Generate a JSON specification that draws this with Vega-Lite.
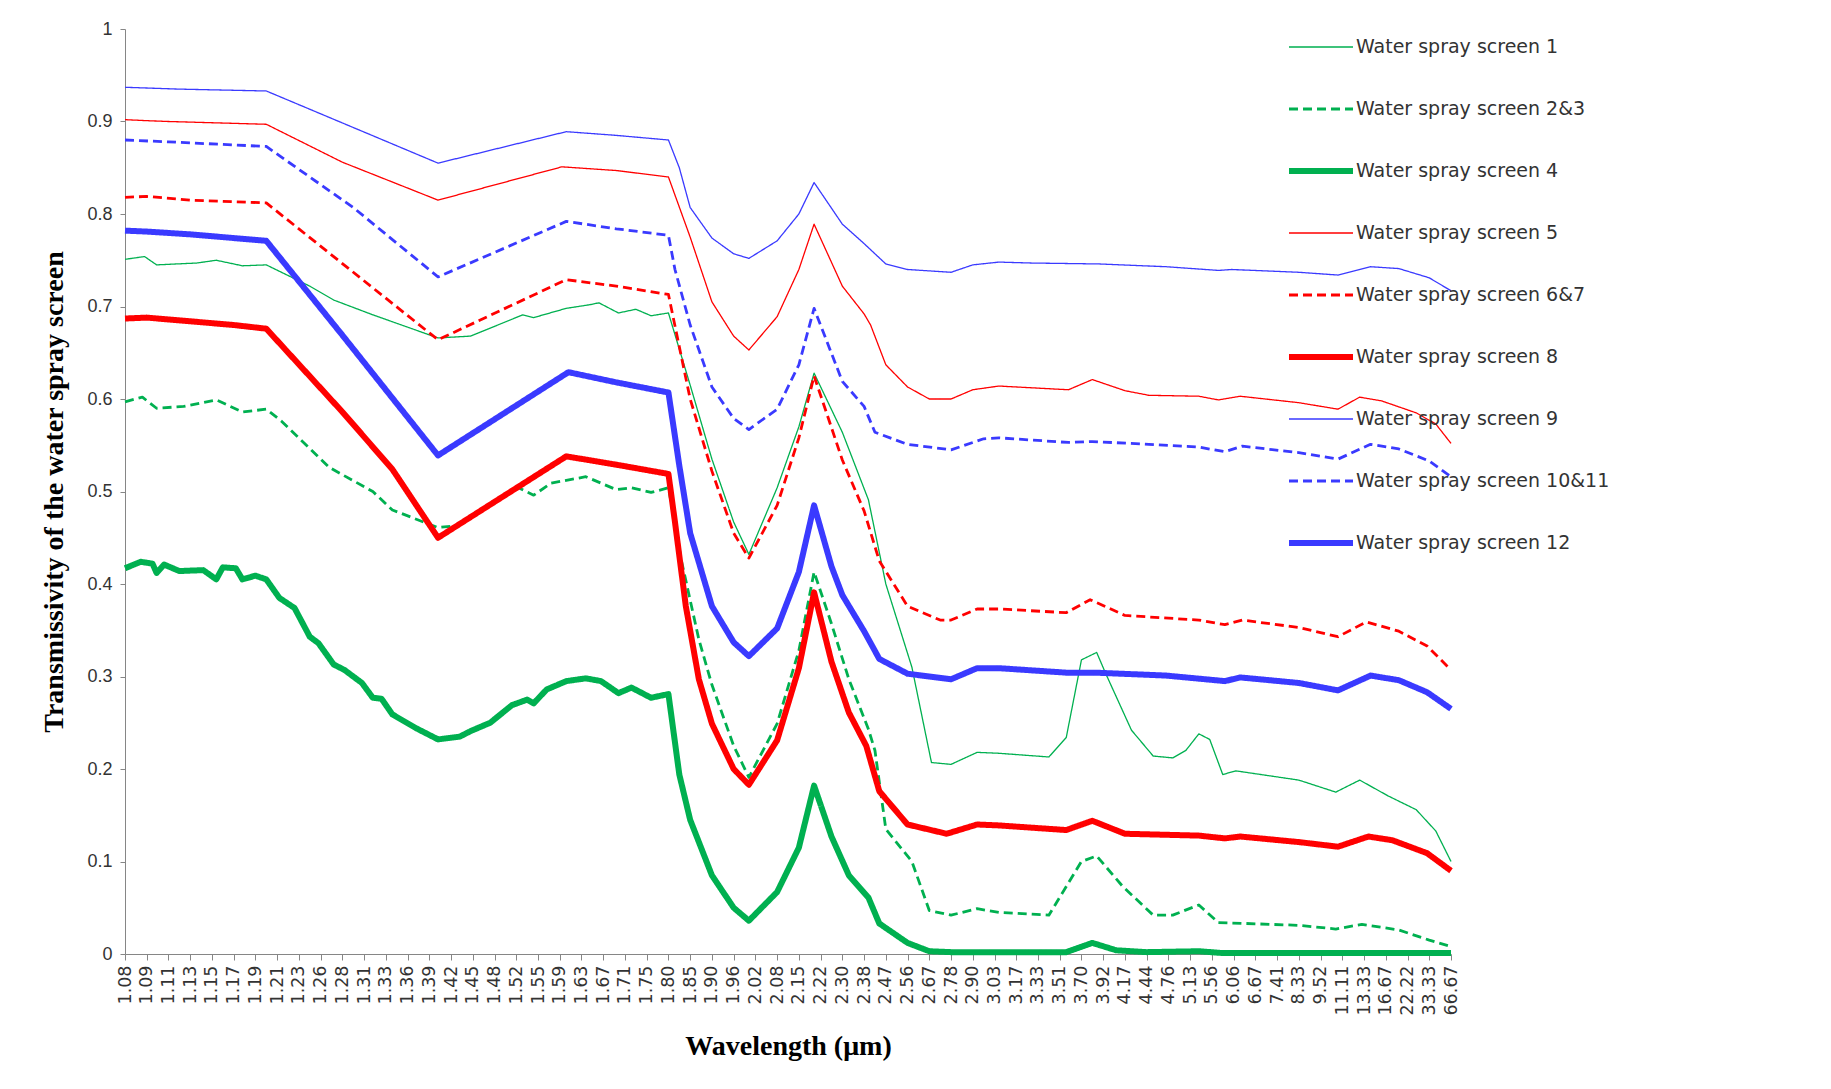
{
  "$schema": "https://vega.github.io/schema/vega-lite/v6.json",
  "width": 1326,
  "height": 925,
  "autosize": {"type": "none"},
  "padding": {"left": 125, "top": 29, "right": 380, "bottom": 135},
  "background": "white",
  "config": {
    "view": {"stroke": null},
    "legend": {
      "orient": "none", "legendX": 1161, "legendY": -12, "padding": 0,
      "symbolType": "stroke", "symbolSize": 4096, "labelFont": "DejaVu Sans",
      "labelFontSize": 19, "labelColor": "#333333", "rowPadding": 2, "clipHeight": 60, "labelOffset": 0,
      "labelLimit": 400
    }
  },
  "data": {"values": [
    {"screen":"Water spray screen 1","wn":9300,"t":0.751},{"screen":"Water spray screen 1","wn":9165,"t":0.754},{"screen":"Water spray screen 1","wn":9082,"t":0.745},{"screen":"Water spray screen 1","wn":8805,"t":0.747},{"screen":"Water spray screen 1","wn":8670,"t":0.750},{"screen":"Water spray screen 1","wn":8490,"t":0.744},{"screen":"Water spray screen 1","wn":8325,"t":0.745},{"screen":"Water spray screen 1","wn":8025,"t":0.722},{"screen":"Water spray screen 1","wn":7860,"t":0.707},{"screen":"Water spray screen 1","wn":7590,"t":0.691},{"screen":"Water spray screen 1","wn":7140,"t":0.666},{"screen":"Water spray screen 1","wn":6915,"t":0.668},{"screen":"Water spray screen 1","wn":6555,"t":0.691},{"screen":"Water spray screen 1","wn":6480,"t":0.688},{"screen":"Water spray screen 1","wn":6255,"t":0.698},{"screen":"Water spray screen 1","wn":6090,"t":0.702},{"screen":"Water spray screen 1","wn":6030,"t":0.704},{"screen":"Water spray screen 1","wn":5895,"t":0.693},{"screen":"Water spray screen 1","wn":5775,"t":0.697},{"screen":"Water spray screen 1","wn":5670,"t":0.690},{"screen":"Water spray screen 1","wn":5550,"t":0.693},{"screen":"Water spray screen 1","wn":5400,"t":0.615},{"screen":"Water spray screen 1","wn":5250,"t":0.535},{"screen":"Water spray screen 1","wn":5100,"t":0.467},{"screen":"Water spray screen 1","wn":4995,"t":0.432},{"screen":"Water spray screen 1","wn":4800,"t":0.504},{"screen":"Water spray screen 1","wn":4650,"t":0.570},{"screen":"Water spray screen 1","wn":4545,"t":0.628},{"screen":"Water spray screen 1","wn":4350,"t":0.564},{"screen":"Water spray screen 1","wn":4170,"t":0.491},{"screen":"Water spray screen 1","wn":4050,"t":0.400},{"screen":"Water spray screen 1","wn":3870,"t":0.310},{"screen":"Water spray screen 1","wn":3735,"t":0.207},{"screen":"Water spray screen 1","wn":3600,"t":0.205},{"screen":"Water spray screen 1","wn":3420,"t":0.218},{"screen":"Water spray screen 1","wn":3270,"t":0.217},{"screen":"Water spray screen 1","wn":2925,"t":0.213},{"screen":"Water spray screen 1","wn":2805,"t":0.234},{"screen":"Water spray screen 1","wn":2700,"t":0.318},{"screen":"Water spray screen 1","wn":2595,"t":0.326},{"screen":"Water spray screen 1","wn":2535,"t":0.304},{"screen":"Water spray screen 1","wn":2355,"t":0.242},{"screen":"Water spray screen 1","wn":2205,"t":0.214},{"screen":"Water spray screen 1","wn":2070,"t":0.212},{"screen":"Water spray screen 1","wn":1980,"t":0.220},{"screen":"Water spray screen 1","wn":1890,"t":0.238},{"screen":"Water spray screen 1","wn":1815,"t":0.232},{"screen":"Water spray screen 1","wn":1725,"t":0.194},{"screen":"Water spray screen 1","wn":1635,"t":0.198},{"screen":"Water spray screen 1","wn":1200,"t":0.188},{"screen":"Water spray screen 1","wn":945,"t":0.175},{"screen":"Water spray screen 1","wn":780,"t":0.188},{"screen":"Water spray screen 1","wn":585,"t":0.171},{"screen":"Water spray screen 1","wn":390,"t":0.156},{"screen":"Water spray screen 1","wn":255,"t":0.133},{"screen":"Water spray screen 1","wn":150,"t":0.100},

    {"screen":"Water spray screen 2&3","wn":9300,"t":0.597},{"screen":"Water spray screen 2&3","wn":9180,"t":0.602},{"screen":"Water spray screen 2&3","wn":9082,"t":0.590},{"screen":"Water spray screen 2&3","wn":8895,"t":0.592},{"screen":"Water spray screen 2&3","wn":8670,"t":0.599},{"screen":"Water spray screen 2&3","wn":8490,"t":0.586},{"screen":"Water spray screen 2&3","wn":8325,"t":0.589},{"screen":"Water spray screen 2&3","wn":8220,"t":0.576},{"screen":"Water spray screen 2&3","wn":7890,"t":0.526},{"screen":"Water spray screen 2&3","wn":7590,"t":0.500},{"screen":"Water spray screen 2&3","wn":7455,"t":0.480},{"screen":"Water spray screen 2&3","wn":7140,"t":0.461},{"screen":"Water spray screen 2&3","wn":7020,"t":0.463},{"screen":"Water spray screen 2&3","wn":6750,"t":0.489},{"screen":"Water spray screen 2&3","wn":6585,"t":0.504},{"screen":"Water spray screen 2&3","wn":6480,"t":0.496},{"screen":"Water spray screen 2&3","wn":6360,"t":0.509},{"screen":"Water spray screen 2&3","wn":6120,"t":0.516},{"screen":"Water spray screen 2&3","wn":5910,"t":0.502},{"screen":"Water spray screen 2&3","wn":5805,"t":0.504},{"screen":"Water spray screen 2&3","wn":5670,"t":0.499},{"screen":"Water spray screen 2&3","wn":5550,"t":0.504},{"screen":"Water spray screen 2&3","wn":5460,"t":0.425},{"screen":"Water spray screen 2&3","wn":5340,"t":0.340},{"screen":"Water spray screen 2&3","wn":5250,"t":0.291},{"screen":"Water spray screen 2&3","wn":5100,"t":0.225},{"screen":"Water spray screen 2&3","wn":4995,"t":0.191},{"screen":"Water spray screen 2&3","wn":4800,"t":0.249},{"screen":"Water spray screen 2&3","wn":4650,"t":0.328},{"screen":"Water spray screen 2&3","wn":4545,"t":0.413},{"screen":"Water spray screen 2&3","wn":4425,"t":0.357},{"screen":"Water spray screen 2&3","wn":4305,"t":0.297},{"screen":"Water spray screen 2&3","wn":4170,"t":0.243},{"screen":"Water spray screen 2&3","wn":4125,"t":0.220},{"screen":"Water spray screen 2&3","wn":4050,"t":0.135},{"screen":"Water spray screen 2&3","wn":3870,"t":0.100},{"screen":"Water spray screen 2&3","wn":3750,"t":0.047},{"screen":"Water spray screen 2&3","wn":3600,"t":0.042},{"screen":"Water spray screen 2&3","wn":3420,"t":0.049},{"screen":"Water spray screen 2&3","wn":3270,"t":0.045},{"screen":"Water spray screen 2&3","wn":2925,"t":0.042},{"screen":"Water spray screen 2&3","wn":2700,"t":0.100},{"screen":"Water spray screen 2&3","wn":2595,"t":0.106},{"screen":"Water spray screen 2&3","wn":2415,"t":0.073},{"screen":"Water spray screen 2&3","wn":2205,"t":0.042},{"screen":"Water spray screen 2&3","wn":2070,"t":0.042},{"screen":"Water spray screen 2&3","wn":1890,"t":0.053},{"screen":"Water spray screen 2&3","wn":1755,"t":0.034},{"screen":"Water spray screen 2&3","wn":1200,"t":0.031},{"screen":"Water spray screen 2&3","wn":945,"t":0.027},{"screen":"Water spray screen 2&3","wn":765,"t":0.032},{"screen":"Water spray screen 2&3","wn":510,"t":0.026},{"screen":"Water spray screen 2&3","wn":300,"t":0.015},{"screen":"Water spray screen 2&3","wn":150,"t":0.008},

    {"screen":"Water spray screen 4","wn":9300,"t":0.417},{"screen":"Water spray screen 4","wn":9192,"t":0.424},{"screen":"Water spray screen 4","wn":9110,"t":0.422},{"screen":"Water spray screen 4","wn":9082,"t":0.412},{"screen":"Water spray screen 4","wn":9030,"t":0.421},{"screen":"Water spray screen 4","wn":8925,"t":0.414},{"screen":"Water spray screen 4","wn":8760,"t":0.415},{"screen":"Water spray screen 4","wn":8670,"t":0.405},{"screen":"Water spray screen 4","wn":8625,"t":0.418},{"screen":"Water spray screen 4","wn":8535,"t":0.417},{"screen":"Water spray screen 4","wn":8490,"t":0.405},{"screen":"Water spray screen 4","wn":8400,"t":0.409},{"screen":"Water spray screen 4","wn":8325,"t":0.405},{"screen":"Water spray screen 4","wn":8235,"t":0.385},{"screen":"Water spray screen 4","wn":8130,"t":0.374},{"screen":"Water spray screen 4","wn":8025,"t":0.343},{"screen":"Water spray screen 4","wn":7965,"t":0.336},{"screen":"Water spray screen 4","wn":7860,"t":0.313},{"screen":"Water spray screen 4","wn":7785,"t":0.307},{"screen":"Water spray screen 4","wn":7665,"t":0.293},{"screen":"Water spray screen 4","wn":7590,"t":0.277},{"screen":"Water spray screen 4","wn":7530,"t":0.276},{"screen":"Water spray screen 4","wn":7455,"t":0.259},{"screen":"Water spray screen 4","wn":7290,"t":0.244},{"screen":"Water spray screen 4","wn":7140,"t":0.232},{"screen":"Water spray screen 4","wn":6990,"t":0.235},{"screen":"Water spray screen 4","wn":6915,"t":0.241},{"screen":"Water spray screen 4","wn":6780,"t":0.250},{"screen":"Water spray screen 4","wn":6630,"t":0.269},{"screen":"Water spray screen 4","wn":6525,"t":0.275},{"screen":"Water spray screen 4","wn":6480,"t":0.271},{"screen":"Water spray screen 4","wn":6390,"t":0.286},{"screen":"Water spray screen 4","wn":6255,"t":0.295},{"screen":"Water spray screen 4","wn":6120,"t":0.298},{"screen":"Water spray screen 4","wn":6015,"t":0.295},{"screen":"Water spray screen 4","wn":5895,"t":0.282},{"screen":"Water spray screen 4","wn":5805,"t":0.288},{"screen":"Water spray screen 4","wn":5670,"t":0.277},{"screen":"Water spray screen 4","wn":5550,"t":0.281},{"screen":"Water spray screen 4","wn":5475,"t":0.194},{"screen":"Water spray screen 4","wn":5400,"t":0.145},{"screen":"Water spray screen 4","wn":5250,"t":0.085},{"screen":"Water spray screen 4","wn":5100,"t":0.050},{"screen":"Water spray screen 4","wn":4995,"t":0.036},{"screen":"Water spray screen 4","wn":4800,"t":0.067},{"screen":"Water spray screen 4","wn":4650,"t":0.115},{"screen":"Water spray screen 4","wn":4545,"t":0.182},{"screen":"Water spray screen 4","wn":4425,"t":0.127},{"screen":"Water spray screen 4","wn":4305,"t":0.085},{"screen":"Water spray screen 4","wn":4170,"t":0.061},{"screen":"Water spray screen 4","wn":4095,"t":0.033},{"screen":"Water spray screen 4","wn":3900,"t":0.012},{"screen":"Water spray screen 4","wn":3750,"t":0.003},{"screen":"Water spray screen 4","wn":3600,"t":0.002},{"screen":"Water spray screen 4","wn":3270,"t":0.002},{"screen":"Water spray screen 4","wn":2805,"t":0.002},{"screen":"Water spray screen 4","wn":2625,"t":0.012},{"screen":"Water spray screen 4","wn":2460,"t":0.004},{"screen":"Water spray screen 4","wn":2250,"t":0.002},{"screen":"Water spray screen 4","wn":1890,"t":0.003},{"screen":"Water spray screen 4","wn":1725,"t":0.001},{"screen":"Water spray screen 4","wn":150,"t":0.001},

    {"screen":"Water spray screen 5","wn":9300,"t":0.902},{"screen":"Water spray screen 5","wn":9165,"t":0.901},{"screen":"Water spray screen 5","wn":9000,"t":0.900},{"screen":"Water spray screen 5","wn":8325,"t":0.897},{"screen":"Water spray screen 5","wn":7800,"t":0.856},{"screen":"Water spray screen 5","wn":7140,"t":0.815},{"screen":"Water spray screen 5","wn":6285,"t":0.851},{"screen":"Water spray screen 5","wn":5910,"t":0.847},{"screen":"Water spray screen 5","wn":5550,"t":0.840},{"screen":"Water spray screen 5","wn":5400,"t":0.775},{"screen":"Water spray screen 5","wn":5250,"t":0.705},{"screen":"Water spray screen 5","wn":5100,"t":0.668},{"screen":"Water spray screen 5","wn":4995,"t":0.653},{"screen":"Water spray screen 5","wn":4800,"t":0.689},{"screen":"Water spray screen 5","wn":4650,"t":0.740},{"screen":"Water spray screen 5","wn":4545,"t":0.789},{"screen":"Water spray screen 5","wn":4350,"t":0.722},{"screen":"Water spray screen 5","wn":4200,"t":0.692},{"screen":"Water spray screen 5","wn":4155,"t":0.680},{"screen":"Water spray screen 5","wn":4050,"t":0.637},{"screen":"Water spray screen 5","wn":3900,"t":0.613},{"screen":"Water spray screen 5","wn":3750,"t":0.600},{"screen":"Water spray screen 5","wn":3600,"t":0.600},{"screen":"Water spray screen 5","wn":3450,"t":0.610},{"screen":"Water spray screen 5","wn":3270,"t":0.614},{"screen":"Water spray screen 5","wn":2790,"t":0.610},{"screen":"Water spray screen 5","wn":2625,"t":0.621},{"screen":"Water spray screen 5","wn":2400,"t":0.609},{"screen":"Water spray screen 5","wn":2235,"t":0.604},{"screen":"Water spray screen 5","wn":1890,"t":0.603},{"screen":"Water spray screen 5","wn":1755,"t":0.599},{"screen":"Water spray screen 5","wn":1605,"t":0.603},{"screen":"Water spray screen 5","wn":1200,"t":0.596},{"screen":"Water spray screen 5","wn":930,"t":0.589},{"screen":"Water spray screen 5","wn":780,"t":0.602},{"screen":"Water spray screen 5","wn":630,"t":0.598},{"screen":"Water spray screen 5","wn":390,"t":0.585},{"screen":"Water spray screen 5","wn":255,"t":0.573},{"screen":"Water spray screen 5","wn":150,"t":0.552},

    {"screen":"Water spray screen 6&7","wn":9300,"t":0.818},{"screen":"Water spray screen 6&7","wn":9150,"t":0.819},{"screen":"Water spray screen 6&7","wn":8850,"t":0.815},{"screen":"Water spray screen 6&7","wn":8325,"t":0.812},{"screen":"Water spray screen 6&7","wn":7140,"t":0.664},{"screen":"Water spray screen 6&7","wn":6255,"t":0.729},{"screen":"Water spray screen 6&7","wn":5910,"t":0.722},{"screen":"Water spray screen 6&7","wn":5550,"t":0.713},{"screen":"Water spray screen 6&7","wn":5400,"t":0.600},{"screen":"Water spray screen 6&7","wn":5250,"t":0.522},{"screen":"Water spray screen 6&7","wn":5100,"t":0.455},{"screen":"Water spray screen 6&7","wn":4995,"t":0.428},{"screen":"Water spray screen 6&7","wn":4800,"t":0.485},{"screen":"Water spray screen 6&7","wn":4650,"t":0.558},{"screen":"Water spray screen 6&7","wn":4545,"t":0.625},{"screen":"Water spray screen 6&7","wn":4350,"t":0.534},{"screen":"Water spray screen 6&7","wn":4200,"t":0.479},{"screen":"Water spray screen 6&7","wn":4095,"t":0.425},{"screen":"Water spray screen 6&7","wn":3900,"t":0.376},{"screen":"Water spray screen 6&7","wn":3675,"t":0.361},{"screen":"Water spray screen 6&7","wn":3600,"t":0.361},{"screen":"Water spray screen 6&7","wn":3420,"t":0.373},{"screen":"Water spray screen 6&7","wn":3270,"t":0.373},{"screen":"Water spray screen 6&7","wn":2805,"t":0.369},{"screen":"Water spray screen 6&7","wn":2640,"t":0.383},{"screen":"Water spray screen 6&7","wn":2400,"t":0.366},{"screen":"Water spray screen 6&7","wn":1890,"t":0.361},{"screen":"Water spray screen 6&7","wn":1710,"t":0.356},{"screen":"Water spray screen 6&7","wn":1590,"t":0.361},{"screen":"Water spray screen 6&7","wn":1200,"t":0.353},{"screen":"Water spray screen 6&7","wn":930,"t":0.343},{"screen":"Water spray screen 6&7","wn":735,"t":0.359},{"screen":"Water spray screen 6&7","wn":510,"t":0.349},{"screen":"Water spray screen 6&7","wn":315,"t":0.333},{"screen":"Water spray screen 6&7","wn":150,"t":0.307},

    {"screen":"Water spray screen 8","wn":9300,"t":0.687},{"screen":"Water spray screen 8","wn":9150,"t":0.688},{"screen":"Water spray screen 8","wn":8850,"t":0.684},{"screen":"Water spray screen 8","wn":8550,"t":0.680},{"screen":"Water spray screen 8","wn":8325,"t":0.676},{"screen":"Water spray screen 8","wn":7800,"t":0.586},{"screen":"Water spray screen 8","wn":7455,"t":0.524},{"screen":"Water spray screen 8","wn":7140,"t":0.450},{"screen":"Water spray screen 8","wn":6255,"t":0.538},{"screen":"Water spray screen 8","wn":5910,"t":0.529},{"screen":"Water spray screen 8","wn":5550,"t":0.519},{"screen":"Water spray screen 8","wn":5505,"t":0.467},{"screen":"Water spray screen 8","wn":5430,"t":0.376},{"screen":"Water spray screen 8","wn":5340,"t":0.297},{"screen":"Water spray screen 8","wn":5250,"t":0.249},{"screen":"Water spray screen 8","wn":5100,"t":0.200},{"screen":"Water spray screen 8","wn":4995,"t":0.183},{"screen":"Water spray screen 8","wn":4800,"t":0.231},{"screen":"Water spray screen 8","wn":4650,"t":0.309},{"screen":"Water spray screen 8","wn":4545,"t":0.391},{"screen":"Water spray screen 8","wn":4425,"t":0.316},{"screen":"Water spray screen 8","wn":4305,"t":0.261},{"screen":"Water spray screen 8","wn":4185,"t":0.225},{"screen":"Water spray screen 8","wn":4095,"t":0.176},{"screen":"Water spray screen 8","wn":3900,"t":0.140},{"screen":"Water spray screen 8","wn":3630,"t":0.130},{"screen":"Water spray screen 8","wn":3420,"t":0.140},{"screen":"Water spray screen 8","wn":3270,"t":0.139},{"screen":"Water spray screen 8","wn":2805,"t":0.134},{"screen":"Water spray screen 8","wn":2625,"t":0.144},{"screen":"Water spray screen 8","wn":2400,"t":0.130},{"screen":"Water spray screen 8","wn":1890,"t":0.128},{"screen":"Water spray screen 8","wn":1710,"t":0.125},{"screen":"Water spray screen 8","wn":1605,"t":0.127},{"screen":"Water spray screen 8","wn":1200,"t":0.121},{"screen":"Water spray screen 8","wn":930,"t":0.116},{"screen":"Water spray screen 8","wn":720,"t":0.127},{"screen":"Water spray screen 8","wn":555,"t":0.123},{"screen":"Water spray screen 8","wn":315,"t":0.109},{"screen":"Water spray screen 8","wn":150,"t":0.090},

    {"screen":"Water spray screen 9","wn":9300,"t":0.937},{"screen":"Water spray screen 9","wn":8925,"t":0.935},{"screen":"Water spray screen 9","wn":8325,"t":0.933},{"screen":"Water spray screen 9","wn":7140,"t":0.855},{"screen":"Water spray screen 9","wn":6255,"t":0.889},{"screen":"Water spray screen 9","wn":5910,"t":0.885},{"screen":"Water spray screen 9","wn":5550,"t":0.880},{"screen":"Water spray screen 9","wn":5475,"t":0.850},{"screen":"Water spray screen 9","wn":5400,"t":0.807},{"screen":"Water spray screen 9","wn":5250,"t":0.774},{"screen":"Water spray screen 9","wn":5100,"t":0.757},{"screen":"Water spray screen 9","wn":4995,"t":0.752},{"screen":"Water spray screen 9","wn":4800,"t":0.771},{"screen":"Water spray screen 9","wn":4650,"t":0.800},{"screen":"Water spray screen 9","wn":4545,"t":0.834},{"screen":"Water spray screen 9","wn":4350,"t":0.789},{"screen":"Water spray screen 9","wn":4200,"t":0.768},{"screen":"Water spray screen 9","wn":4050,"t":0.746},{"screen":"Water spray screen 9","wn":3900,"t":0.740},{"screen":"Water spray screen 9","wn":3600,"t":0.737},{"screen":"Water spray screen 9","wn":3450,"t":0.745},{"screen":"Water spray screen 9","wn":3270,"t":0.748},{"screen":"Water spray screen 9","wn":3045,"t":0.747},{"screen":"Water spray screen 9","wn":2580,"t":0.746},{"screen":"Water spray screen 9","wn":2115,"t":0.743},{"screen":"Water spray screen 9","wn":1755,"t":0.739},{"screen":"Water spray screen 9","wn":1665,"t":0.740},{"screen":"Water spray screen 9","wn":1200,"t":0.737},{"screen":"Water spray screen 9","wn":930,"t":0.734},{"screen":"Water spray screen 9","wn":705,"t":0.743},{"screen":"Water spray screen 9","wn":510,"t":0.741},{"screen":"Water spray screen 9","wn":300,"t":0.731},{"screen":"Water spray screen 9","wn":150,"t":0.717},

    {"screen":"Water spray screen 10&11","wn":9300,"t":0.880},{"screen":"Water spray screen 10&11","wn":9000,"t":0.878},{"screen":"Water spray screen 10&11","wn":8325,"t":0.873},{"screen":"Water spray screen 10&11","wn":7725,"t":0.807},{"screen":"Water spray screen 10&11","wn":7140,"t":0.732},{"screen":"Water spray screen 10&11","wn":6255,"t":0.792},{"screen":"Water spray screen 10&11","wn":5910,"t":0.784},{"screen":"Water spray screen 10&11","wn":5550,"t":0.777},{"screen":"Water spray screen 10&11","wn":5505,"t":0.740},{"screen":"Water spray screen 10&11","wn":5400,"t":0.680},{"screen":"Water spray screen 10&11","wn":5250,"t":0.613},{"screen":"Water spray screen 10&11","wn":5100,"t":0.579},{"screen":"Water spray screen 10&11","wn":4995,"t":0.567},{"screen":"Water spray screen 10&11","wn":4800,"t":0.589},{"screen":"Water spray screen 10&11","wn":4650,"t":0.637},{"screen":"Water spray screen 10&11","wn":4545,"t":0.698},{"screen":"Water spray screen 10&11","wn":4350,"t":0.619},{"screen":"Water spray screen 10&11","wn":4200,"t":0.592},{"screen":"Water spray screen 10&11","wn":4125,"t":0.564},{"screen":"Water spray screen 10&11","wn":3900,"t":0.551},{"screen":"Water spray screen 10&11","wn":3600,"t":0.545},{"screen":"Water spray screen 10&11","wn":3375,"t":0.557},{"screen":"Water spray screen 10&11","wn":3270,"t":0.558},{"screen":"Water spray screen 10&11","wn":2790,"t":0.553},{"screen":"Water spray screen 10&11","wn":2625,"t":0.554},{"screen":"Water spray screen 10&11","wn":2235,"t":0.551},{"screen":"Water spray screen 10&11","wn":1890,"t":0.548},{"screen":"Water spray screen 10&11","wn":1710,"t":0.543},{"screen":"Water spray screen 10&11","wn":1590,"t":0.549},{"screen":"Water spray screen 10&11","wn":1200,"t":0.542},{"screen":"Water spray screen 10&11","wn":930,"t":0.535},{"screen":"Water spray screen 10&11","wn":705,"t":0.551},{"screen":"Water spray screen 10&11","wn":510,"t":0.546},{"screen":"Water spray screen 10&11","wn":300,"t":0.533},{"screen":"Water spray screen 10&11","wn":150,"t":0.516},

    {"screen":"Water spray screen 12","wn":9300,"t":0.782},{"screen":"Water spray screen 12","wn":9150,"t":0.781},{"screen":"Water spray screen 12","wn":8850,"t":0.778},{"screen":"Water spray screen 12","wn":8550,"t":0.774},{"screen":"Water spray screen 12","wn":8325,"t":0.771},{"screen":"Water spray screen 12","wn":7800,"t":0.669},{"screen":"Water spray screen 12","wn":7140,"t":0.539},{"screen":"Water spray screen 12","wn":6240,"t":0.629},{"screen":"Water spray screen 12","wn":5910,"t":0.618},{"screen":"Water spray screen 12","wn":5550,"t":0.607},{"screen":"Water spray screen 12","wn":5475,"t":0.528},{"screen":"Water spray screen 12","wn":5400,"t":0.455},{"screen":"Water spray screen 12","wn":5250,"t":0.376},{"screen":"Water spray screen 12","wn":5100,"t":0.337},{"screen":"Water spray screen 12","wn":4995,"t":0.322},{"screen":"Water spray screen 12","wn":4800,"t":0.352},{"screen":"Water spray screen 12","wn":4650,"t":0.413},{"screen":"Water spray screen 12","wn":4545,"t":0.485},{"screen":"Water spray screen 12","wn":4425,"t":0.419},{"screen":"Water spray screen 12","wn":4350,"t":0.388},{"screen":"Water spray screen 12","wn":4200,"t":0.349},{"screen":"Water spray screen 12","wn":4095,"t":0.319},{"screen":"Water spray screen 12","wn":3900,"t":0.303},{"screen":"Water spray screen 12","wn":3600,"t":0.297},{"screen":"Water spray screen 12","wn":3420,"t":0.309},{"screen":"Water spray screen 12","wn":3270,"t":0.309},{"screen":"Water spray screen 12","wn":2790,"t":0.304},{"screen":"Water spray screen 12","wn":2580,"t":0.304},{"screen":"Water spray screen 12","wn":2115,"t":0.301},{"screen":"Water spray screen 12","wn":1710,"t":0.295},{"screen":"Water spray screen 12","wn":1605,"t":0.299},{"screen":"Water spray screen 12","wn":1200,"t":0.293},{"screen":"Water spray screen 12","wn":930,"t":0.285},{"screen":"Water spray screen 12","wn":705,"t":0.301},{"screen":"Water spray screen 12","wn":510,"t":0.296},{"screen":"Water spray screen 12","wn":315,"t":0.283},{"screen":"Water spray screen 12","wn":150,"t":0.265}
  ]},
  "mark": {"type": "line", "strokeJoin": "round"},
  "encoding": {
    "x": {
      "field": "wn", "type": "quantitative",
      "scale": {"domain": [9300, 150], "nice": false, "zero": false},
      "axis": {
        "values": [9300,9150,9000,8850,8700,8550,8400,8250,8100,7950,7800,7650,7500,7350,7200,7050,6900,6750,6600,6450,6300,6150,6000,5850,5700,5550,5400,5250,5100,4950,4800,4650,4500,4350,4200,4050,3900,3750,3600,3450,3300,3150,3000,2850,2700,2550,2400,2250,2100,1950,1800,1650,1500,1350,1200,1050,900,750,600,450,300,150],
        "labelExpr": "format(10000 / datum.value, '.2f')",
        "labelAngle": -90, "labelFont": "DejaVu Sans", "labelFontSize": 17.5, "labelColor": "#333333",
        "labelOverlap": false, "labelFlush": false, "labelBound": false,
        "labelPadding": 5, "tickSize": 6, "tickColor": "#868686", "domainColor": "#868686", "grid": false,
        "title": "Wavelength (μm)", "titleFont": "Liberation Serif", "titleFontSize": 28, "titleFontWeight": "bold",
        "titleColor": "#000000", "titleBaseline": "alphabetic", "titleY": 100
      }
    },
    "y": {
      "field": "t", "type": "quantitative",
      "scale": {"domain": [0, 1], "nice": false},
      "axis": {
        "values": [0, 0.1, 0.2, 0.3, 0.4, 0.5, 0.6, 0.7, 0.8, 0.9, 1],
        "format": "~g", "labelFont": "Liberation Sans", "labelFontSize": 18, "labelColor": "#333333",
        "labelPadding": 8, "tickSize": 5, "tickColor": "#868686", "domainColor": "#868686", "grid": false,
        "title": "Transmissivity of the water spray screen", "titleFont": "Liberation Serif", "titleFontSize": 28,
        "titleFontWeight": "bold", "titleColor": "#000000", "titleX": -57, "titleBaseline": "bottom"
      }
    },
    "color": {
      "field": "screen", "type": "nominal", "title": null,
      "scale": {
        "domain": ["Water spray screen 1","Water spray screen 2&3","Water spray screen 4","Water spray screen 5","Water spray screen 6&7","Water spray screen 8","Water spray screen 9","Water spray screen 10&11","Water spray screen 12"],
        "range": ["#00B050","#00B050","#00B050","#FF0000","#FF0000","#FF0000","#3A3AFF","#3A3AFF","#3A3AFF"]
      }
    },
    "strokeDash": {
      "field": "screen", "type": "nominal", "title": null,
      "scale": {
        "domain": ["Water spray screen 1","Water spray screen 2&3","Water spray screen 4","Water spray screen 5","Water spray screen 6&7","Water spray screen 8","Water spray screen 9","Water spray screen 10&11","Water spray screen 12"],
        "range": [[1,0],[9,5],[1,0],[1,0],[9,5],[1,0],[1,0],[9,5],[1,0]]
      }
    },
    "strokeWidth": {
      "field": "screen", "type": "nominal", "title": null,
      "scale": {
        "type": "ordinal",
        "domain": ["Water spray screen 1","Water spray screen 2&3","Water spray screen 4","Water spray screen 5","Water spray screen 6&7","Water spray screen 8","Water spray screen 9","Water spray screen 10&11","Water spray screen 12"],
        "range": [1.3, 2.8, 6, 1.3, 2.8, 6, 1.3, 2.8, 6]
      }
    }
  }
}
